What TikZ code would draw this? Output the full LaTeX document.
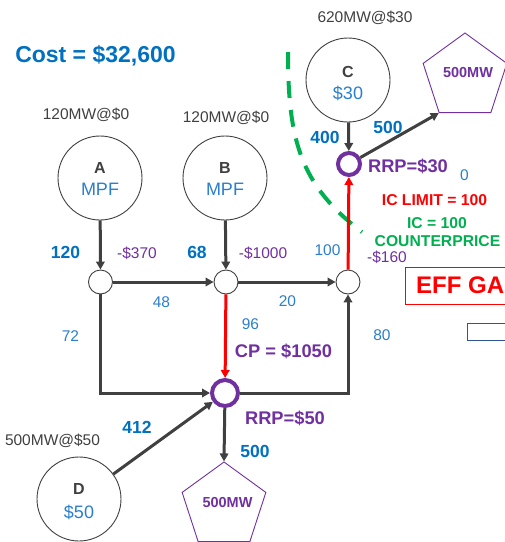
\documentclass[tikz,border=0pt]{standalone}
\usepackage{fontspec}
\setmainfont{Liberation Sans}
\usetikzlibrary{arrows.meta,shapes.geometric}
\definecolor{dg}{HTML}{404040}
\definecolor{blueB}{HTML}{0070C0}
\definecolor{blueL}{HTML}{2A7FCC}
\definecolor{pur}{HTML}{7030A0}
\definecolor{grn}{HTML}{00B050}
\definecolor{rd}{HTML}{FF0000}
\definecolor{dblue}{HTML}{2F5597}
\newcommand{\fs}[1]{\fontsize{#1}{#1}\selectfont}
\tikzset{
  bigc/.style={circle, draw=dg, line width=0.9pt, minimum size=84pt, inner sep=0pt},
  junc/.style={circle, draw=dg, line width=0.9pt, minimum size=24pt, inner sep=0pt, fill=white},
  busnode/.style={circle, draw=pur, line width=4pt, inner sep=0pt},
  pent/.style={regular polygon, regular polygon sides=5, draw=pur, line width=0.9pt, minimum size=88pt, inner sep=0pt},
  flow/.style={draw=dg, line width=3pt, -{Triangle[length=8pt,width=8.5pt]}},
  redflow/.style={draw=rd, line width=3pt, -{Triangle[length=8pt,width=8.5pt]}},
  txt/.style={anchor=base, inner sep=0pt},
  lbl/.style={txt, font=\fs{15.5}, text=blueL},
  num/.style={txt, font=\fs{17.5}\bfseries, text=blueB},
  price/.style={txt, font=\fs{15.5}, text=pur},
  rrp/.style={txt, font=\fs{18.3}\bfseries, text=pur},
  gen/.style={txt, font=\fs{15.5}, text=dg},
  letter/.style={txt, font=\fs{16}\bfseries, text=dg},
  val/.style={txt, font=\fs{18}, text=blueL},
}
\begin{document}
\begin{tikzpicture}[x=1pt,y=-1pt]
\useasboundingbox (0,0) rectangle (505,542);
\clip (0,0) rectangle (505,542);
\fill[white] (0,0) rectangle (505,542);

% title
\node[txt, font=\fs{23}\bfseries, text=blueB] (cost) at (95.5,62) {Cost = \$32,600};

% generators
\node[bigc] (A) at (100,178) {};
\node[bigc] (B) at (225,178) {};
\node[bigc] (C) at (348,80) {};
\node[bigc] (D) at (79,499) {};
\node[letter] (Al) at (100,173) {A};
\node[val] (Av) at (100,195) {MPF};
\node[letter] (Bl) at (225,173) {B};
\node[val] (Bv) at (225,195) {MPF};
\node[letter] (Cl) at (348,77) {C};
\node[val] (Cv) at (348,99) {\$30};
\node[letter] (Dl) at (79,494) {D};
\node[val] (Dv) at (79,518) {\$50};

\node[gen] (Ag) at (86,119) {120MW@\$0};
\node[gen] (Bg) at (226,122) {120MW@\$0};
\node[gen] (Cg) at (365,22) {620MW@\$30};
\node[gen] (Dg) at (52.5,445) {500MW@\$50};

% junctions
\node[junc] (j1) at (100.5,282) {};
\node[junc] (j2) at (226,282) {};
\node[junc] (j3) at (348,282) {};
\node[busnode, minimum size=22pt] (P30) at (349,164) {};
\node[busnode, minimum size=26pt] (P50) at (225,393) {};

% loads
\node[pent] (LC) at (465,77) {};
\node[pent] (LB) at (224,506) {};
\node[txt, font=\fs{14.5}\bfseries, text=pur] (LCt) at (468,77) {500MW};
\node[txt, font=\fs{14.5}\bfseries, text=pur] (LBt) at (227.5,507) {500MW};

% green dashed boundary
\draw[grn, line width=4pt, dash pattern=on 17pt off 12pt] (288,52) .. controls (288,140) and (300,185) .. (362,232);

% flows
\draw[flow] (A) -- (j1);
\draw[flow] (B) -- (j2);
\draw[flow] (j1) -- (j2);
\draw[flow] (j2) -- (j3);
\draw[flow] (j1) |- (P50);
\draw[flow] (P50) -| (j3);
\draw[redflow] (j2) -- (P50);
\draw[redflow] (j3) -- (P30);
\draw[flow] (C) -- (P30);
\draw[flow] (P30) -- (LC.corner 3);
\draw[flow] (D) -- (P50);
\draw[flow] (P50) -- (LB.corner 1);

% flow labels
\node[num] (n120) at (65.5,258) {120};
\node[price] (p370) at (137,258) {-\$370};
\node[num] (n68) at (197,258) {68};
\node[price] (p1000) at (263,258) {-\$1000};
\node[lbl] (n100) at (327.5,255) {100};
\node[price] (p160) at (387,262) {-\$160};
\node[lbl] (n48) at (161.5,307) {48};
\node[lbl] (n72) at (70.5,341) {72};
\node[lbl] (n20) at (287.5,306) {20};
\node[lbl] (n96) at (250.5,329) {96};
\node[lbl] (n80) at (382,340) {80};
\node[rrp] (cp) at (283.5,357) {CP = \$1050};
\node[rrp] (r50) at (285,424) {RRP=\$50};
\node[num] (n412) at (137,433) {412};
\node[num] (n500b) at (255,457) {500};
\node[num] (n400) at (325,143) {400};
\node[num] (n500t) at (388,133) {500};
\node[rrp] (r30) at (408,172) {RRP=\$30};
\node[lbl] (n0) at (464.5,180) {0};
\node[txt, font=\fs{15.7}\bfseries, text=rd] (icl) at (434.5,205) {IC LIMIT = 100};
\node[txt, font=\fs{15.7}\bfseries, text=grn] (ic) at (437,228) {IC = 100};
\node[txt, font=\fs{15.7}\bfseries, text=grn] (cpr) at (437.5,246.5) {COUNTERPRICE};

% boxes at right edge
\draw[rd, line width=0.9pt] (405,267) rectangle (515,304);
\node[txt, anchor=base west, font=\fs{24}\bfseries, text=rd] (eff) at (416,293) {EFF GA};
\draw[dblue, line width=0.9pt] (467,323) rectangle (515,340);
\end{tikzpicture}
\end{document}
